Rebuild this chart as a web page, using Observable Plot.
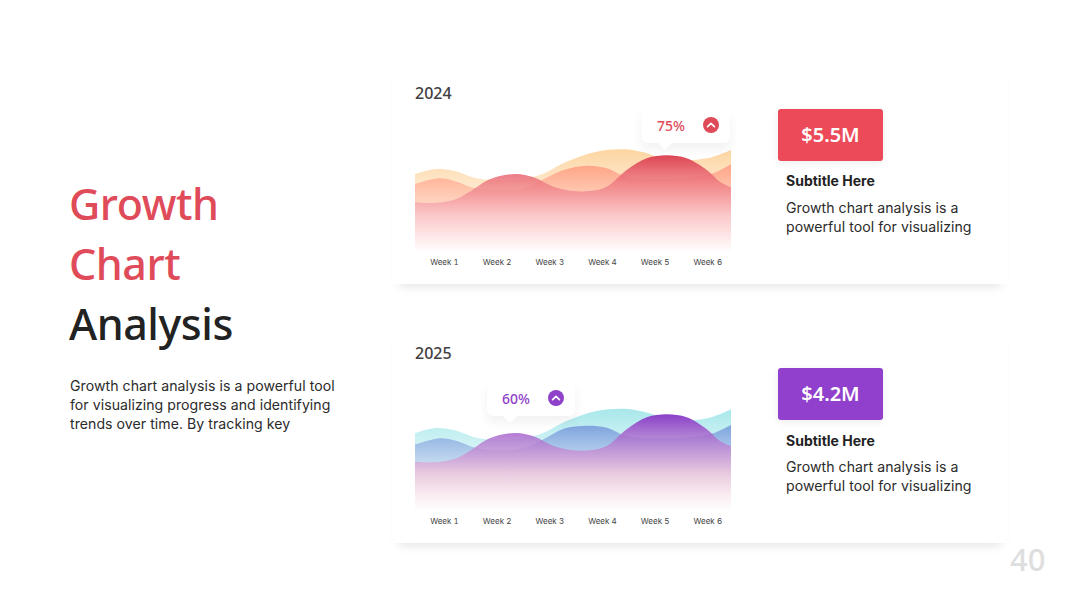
<!DOCTYPE html>
<html><head><meta charset="utf-8">
<script src="https://cdn.jsdelivr.net/npm/d3@7"></script>
<script src="https://cdn.jsdelivr.net/npm/@observablehq/plot@0.6"></script>
<style>
html,body{margin:0;padding:0;background:#fff;width:1080px;height:608px;overflow:hidden}
body{position:relative;font-family:Inter,sans-serif}
.a{position:absolute;white-space:nowrap}
.head{font-family:"Noto Sans";font-weight:500;font-size:43px;letter-spacing:-.45px;line-height:60px;left:69px}
.body{font-family:Inter;font-size:14.1px;letter-spacing:.05px;color:#2b2b2b;line-height:19px}
.card{position:absolute;left:392px;width:616px;background:#fff;box-shadow:0 9px 10px -7px rgba(0,0,0,.12)}
.year{font-family:"Noto Sans";font-weight:500;font-size:16px;color:#404040;left:415px}
.badge{position:absolute;left:778px;width:105px;height:52px;border-radius:3px;color:#fff;font-family:"Noto Sans";font-weight:600;font-size:20px;line-height:52px;text-align:center;box-shadow:0 2px 8px rgba(0,0,0,.08)}
.sub{font-family:Inter;font-weight:700;font-size:14px;color:#222;left:786px}
.tip{position:absolute;width:88px;height:33px;background:#fff;border-radius:6px;box-shadow:0 6px 12px rgba(0,0,0,.06)}
.tip:after{content:"";position:absolute;left:18px;bottom:-5px;width:10px;height:10px;background:#fff;transform:rotate(45deg)}
.tip b{position:absolute;left:15px;top:6px;font:500 14px/20px "Noto Sans"}
.tip svg{position:absolute;left:60px;top:6px}
.chart{position:absolute;left:415px}
.chart svg{display:block;background:transparent;overflow:visible}
</style></head><body>
<script>
const weekTicks = [1, 2, 3, 4, 5, 6];
const frontX = [.45,.80,1.18,1.49,1.87,2.35,2.70,3.08,3.46,3.77,4.09,4.47,4.85,5.23,5.61,5.99,6.24,6.45];
const midX = [.45,.92,1.24,1.59,2.06,2.51,2.89,3.27,3.71,4.09,4.47,5.23,5.73,6.11,6.45];
const backX = [.45,.80,1.18,1.62,1.94,2.32,2.82,3.33,3.90,4.41,4.79,5.17,5.73,6.11,6.45];
const front2024 = [49.7,49,52,60.3,72.7,78,74.7,65.3,61,61,65.3,82,93.7,96.7,93.7,82,70.3,64.7];
const mid2024 = [68,73.7,70.3,63.7,61.7,63.7,72.7,82,86.3,83.7,75.3,73,74.7,78.7,87.7];
const back2024 = [77.7,82.7,81.3,73.7,72,72,77,90.3,100.3,102.7,99.7,93,92,95.3,102];
const front2025 = [49.3,48.7,51.7,60,72.7,78,74.7,65,60.7,60.7,65,81.7,93.7,96.7,93.7,81.7,70,65];
const mid2025 = [66.3,72.7,70,63.3,60.7,62.7,71.7,82.3,85.3,83.3,75,72.7,74.3,77.7,86];
const back2025 = [77.7,82.7,81,73.3,71.7,71.7,76.7,90,100,102.3,99.3,93.7,91,94.3,101.7];

const leftLines = ["Growth chart analysis is a powerful tool","for visualizing progress and identifying","trends over time. By tracking key"];
const noteLines = ["Growth chart analysis is a","powerful tool for visualizing"];

function el(cls, css, text){const d=document.createElement("div");d.className=cls;d.style.cssText=css;if(text!=null)d.textContent=text;document.body.appendChild(d);return d;}
function rows(xs, ys){return xs.map((x,i)=>({x,y:ys[i]}));}
function grad(id, stops){
  return () => {
    const svg = d3.create("svg:defs");
    const g = svg.append("linearGradient").attr("id",id).attr("x1",0).attr("x2",0).attr("y1",0).attr("y2",1);
    stops.forEach(([o,c,a])=>g.append("stop").attr("offset",o).attr("stop-color",c).attr("stop-opacity",a));
    return svg.node();
  };
}
function drawChart(top, year, back, mid, frontv, colors){
  const cfg = {x:"x", y:"y", curve:"catmull-rom"};
  const p = Plot.plot({
    width:316, height:154, marginLeft:0, marginRight:0, marginTop:0, marginBottom:24,
    x:{domain:[.45,6.45]}, y:{domain:[0,130], axis:null},
    marks:[
      grad("b"+year,colors.back),
      grad("m"+year,colors.mid),
      grad("f"+year,colors.front),
      Plot.areaY(rows(backX,back),{...cfg, fill:`url(#b${year})`}),
      Plot.areaY(rows(midX,mid),{...cfg, fill:`url(#m${year})`}),
      Plot.areaY(rows(frontX,frontv),{...cfg, fill:`url(#f${year})`}),
      Plot.axisX({ticks:weekTicks, tickSize:0, tickPadding:7, tickFormat:d=>`Week ${d}`, fontSize:8, fontFamily:"Inter", fill:"#444", label:null})
    ]
  });
  const w = el("chart",`top:${top}px`); w.appendChild(p);
}
function tip(left, top, label, color){
  const t = el("tip",`left:${left}px;top:${top}px`);
  t.innerHTML = `<b style="color:${color}">${label}</b><svg width="18" height="18" viewBox="0 0 18 18"><circle cx="9" cy="9" r="8" fill="${color}"/><path d="M5.6 10.6 9 7.4l3.4 3.2" fill="none" stroke="#fff" stroke-width="1.7" stroke-linecap="round" stroke-linejoin="round"/></svg>`;
}
el("card","top:60px;height:224px");
el("card","top:320px;height:223px");
el("a head","top:174px;color:#e04b59","Growth");
el("a head","top:234px;color:#e04b59","Chart");
el("a head","top:294px;color:#222","Analysis");
leftLines.forEach((s,i)=>el("a body",`left:70px;top:${376+i*19}px`,s));
el("a year","top:82px","2024");
el("a year","top:342px","2025");

drawChart(122,2024,back2024,mid2024,front2024,{
  back:[[0,"#fdd39c",.95],[1,"#fff2e4",.25]],
  mid:[[0,"#ffa083",.95],[1,"#ffe8e0",.1]],
  front:[[0,"#dd4454",1],[.3,"#ee7b83",.8],[.62,"#fbc6c8",.92],[1,"#ffffff",.95]]
});
drawChart(381,2025,back2025,mid2025,front2025,{
  back:[[0,"#a3e6ea",.95],[1,"#eefafa",.25]],
  mid:[[0,"#7a9fdc",.95],[1,"#eef0fa",.1]],
  front:[[0,"#8a3fc8",1],[.3,"#b77cd0",.8],[.62,"#ebc9de",.92],[.85,"#fbeef2",.95],[1,"#ffffff",.95]]
});
tip(642,110,"75%","#df4a58");
tip(487,383,"60%","#8f41c9");

el("badge","top:109px;background:#ec4a58","$5.5M");
el("badge","top:368px;background:#9040cc","$4.2M");
el("a sub","top:172px","Subtitle Here");
el("a sub","top:432px","Subtitle Here");
noteLines.forEach((s,i)=>el("a body",`left:786px;top:${198+i*19}px`,s));
noteLines.forEach((s,i)=>el("a body",`left:786px;top:${457+i*19}px`,s));
el("a","left:1010px;top:537px;font:500 31px/44px 'Noto Sans';color:#dedede","40");
</script>
</body></html>
